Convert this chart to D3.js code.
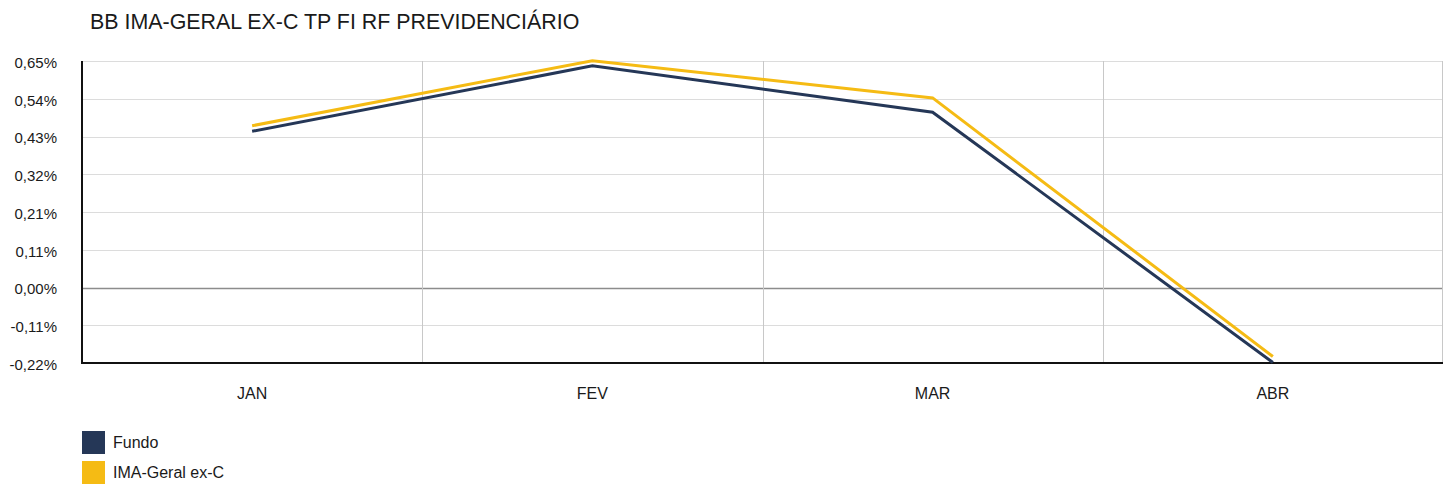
<!DOCTYPE html>
<html>
<head>
<meta charset="utf-8">
<script src="https://cdn.jsdelivr.net/npm/d3@7"></script>
<style>
  body { margin: 0; background: #fff; }
  svg { display: block; font-family: "Liberation Sans", Arial, sans-serif; }
</style>
</head>
<body>
<script>
const months = ['JAN', 'FEV', 'MAR', 'ABR'];
const fundo = [0.448, 0.636, 0.503, -0.216];
const imaGeral = [0.464, 0.651, 0.544, -0.199];
const yTickLabels = ['-0,22%', '-0,11%', '0,00%', '0,11%', '0,21%', '0,32%', '0,43%', '0,54%', '0,65%'];
const seriesNames = ['Fundo', 'IMA-Geral ex-C'];
const colors = ['#253757', '#f5bb14'];

const width = 1449;
const height = 484;
const margin = { top: 61, right: 6, bottom: 121, left: 82 };
const innerWidth = width - margin.left - margin.right;
const innerHeight = height - margin.top - margin.bottom;
const fontFamily = '"Liberation Sans", Arial, sans-serif';

const svg = d3.select('body').append('svg')
  .attr('width', width)
  .attr('height', height);

svg.append('text')
  .attr('x', 90)
  .attr('y', 29)
  .attr('font-size', 21.4)
  .attr('fill', '#1a1a1a')
  .text('BB IMA-GERAL EX-C TP FI RF PREVIDENCIÁRIO');

const chart = svg.append('g')
  .attr('transform', `translate(${margin.left}, ${margin.top})`);

const xScale = d3.scaleBand()
  .domain(months)
  .range([0, innerWidth]);

const yMin = -0.2175, yMax = 0.65;
const yStep = (yMax - yMin) / (yTickLabels.length - 1);
const yTicks = yTickLabels.map((_, i) => yMin + i * yStep);

const yScale = d3.scaleLinear()
  .domain([yMin, yMax])
  .range([innerHeight, 0]);

// horizontal grid
chart.append('g')
  .selectAll('line')
  .data(yTicks)
  .enter().append('line')
  .attr('x1', 0)
  .attr('x2', innerWidth)
  .attr('y1', d => Math.round(yScale(d)) + 0.5)
  .attr('y2', d => Math.round(yScale(d)) + 0.5)
  .attr('stroke', (d, i) => yTickLabels[i] === '0,00%' ? '#8c8c8c' : '#dcdcdc')
  .attr('stroke-width', (d, i) => yTickLabels[i] === '0,00%' ? 1.5 : 1);

// vertical grid between months + right border
chart.append('g')
  .selectAll('line')
  .data(months.slice(1).map(d => xScale(d)).concat([innerWidth - 1]))
  .enter().append('line')
  .attr('x1', d => Math.round(d) + 0.5)
  .attr('x2', d => Math.round(d) + 0.5)
  .attr('y1', 0)
  .attr('y2', innerHeight)
  .attr('stroke', '#c8c8c8');

const yAxis = d3.axisLeft(yScale)
  .tickValues(yTicks)
  .tickFormat((d, i) => yTickLabels[i])
  .tickSize(0)
  .tickPadding(25);

const yAxisG = chart.append('g').call(yAxis);
yAxisG.select('.domain').remove();
yAxisG.selectAll('text')
  .attr('font-size', 15)
  .attr('fill', '#1a1a1a')
  .attr('dy', '0.42em')
  .attr('font-family', fontFamily);

const xAxis = d3.axisBottom(xScale).tickSize(0).tickPadding(0);
const xAxisG = chart.append('g')
  .attr('transform', `translate(0, ${innerHeight})`)
  .call(xAxis);
xAxisG.select('.domain').remove();
xAxisG.selectAll('text')
  .attr('font-size', 16)
  .attr('fill', '#1a1a1a')
  .attr('y', 36)
  .attr('dy', 0)
  .attr('font-family', fontFamily);

// axis lines
chart.append('line')
  .attr('x1', 0).attr('x2', 0)
  .attr('y1', 0).attr('y2', innerHeight + 1)
  .attr('stroke', '#111').attr('stroke-width', 2);
chart.append('line')
  .attr('x1', -1).attr('x2', innerWidth)
  .attr('y1', innerHeight).attr('y2', innerHeight)
  .attr('stroke', '#111').attr('stroke-width', 2);

const line = d3.line()
  .x((d, i) => xScale(months[i]) + xScale.bandwidth() / 2)
  .y(d => yScale(d));

[fundo, imaGeral].forEach((series, k) => {
  chart.append('path')
    .datum(series)
    .attr('d', line)
    .attr('fill', 'none')
    .attr('stroke', colors[k])
    .attr('stroke-width', 3);
});

const legend = svg.append('g')
  .attr('transform', 'translate(82, 431)');

seriesNames.forEach((name, i) => {
  const row = legend.append('g').attr('transform', `translate(0, ${i * 30})`);
  row.append('rect')
    .attr('width', 23)
    .attr('height', 23)
    .attr('fill', colors[i]);
  row.append('text')
    .attr('x', 31)
    .attr('y', 17)
    .attr('font-size', 16)
    .attr('fill', '#1a1a1a')
    .text(name);
});
</script>
</body>
</html>
